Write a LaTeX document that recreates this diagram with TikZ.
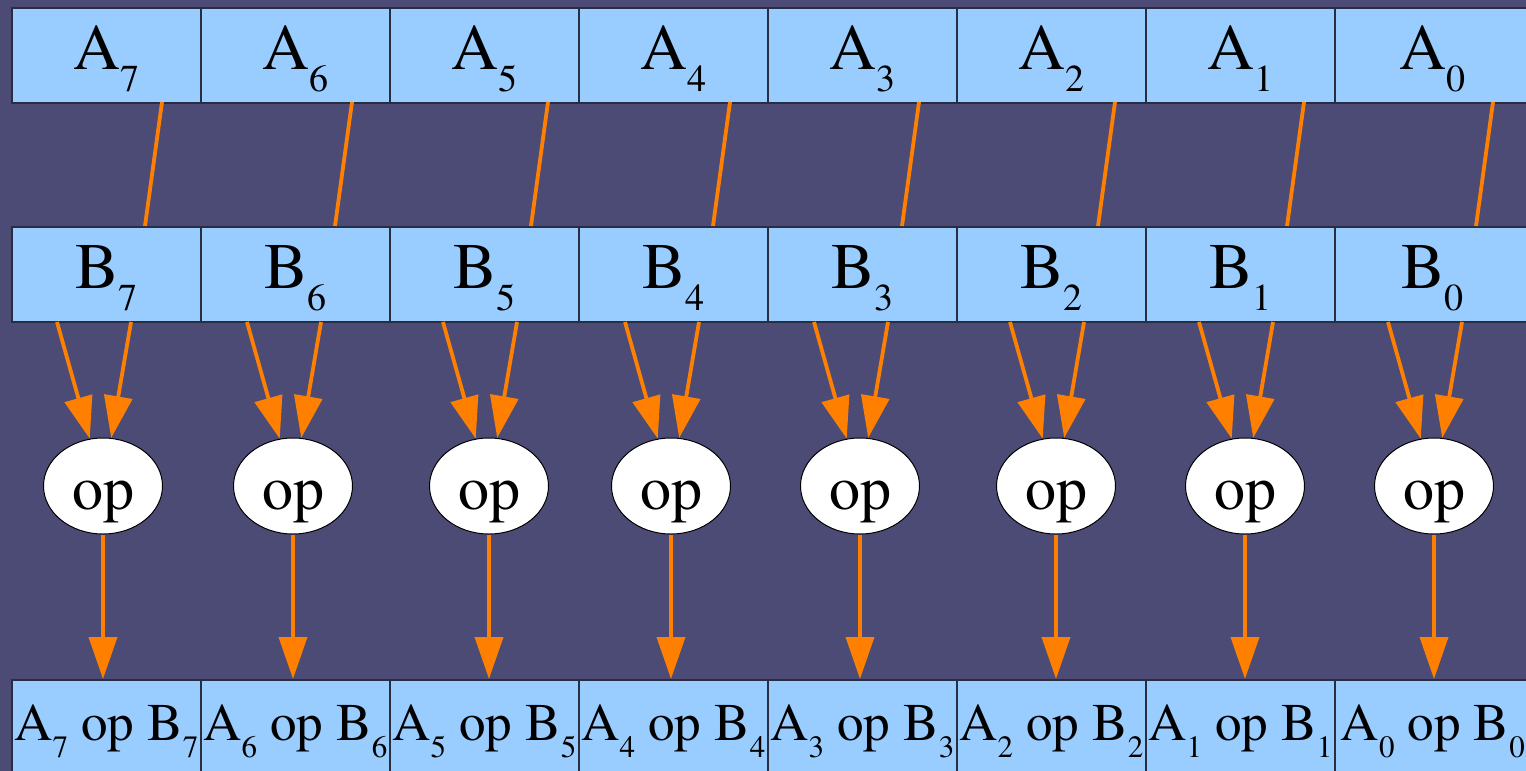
\documentclass[tikz,border=0pt]{standalone}
\usepackage{fontspec}
\setmainfont{texgyretermes}[Extension=.otf, UprightFont=*-regular]
\usetikzlibrary{arrows.meta, shapes.geometric}
\definecolor{bgblue}{RGB}{75,75,118}
\definecolor{cellblue}{RGB}{153,204,255}
\definecolor{cellline}{RGB}{40,45,65}
\definecolor{edgeorange}{RGB}{255,128,0}
\newcommand{\subhi}[1]{\raisebox{-11pt}{\fontsize{19}{19}\selectfont #1}}
\newcommand{\sublo}[1]{\raisebox{-8.5pt}{\fontsize{15.5}{15.5}\selectfont #1}}
\begin{document}
\begin{tikzpicture}[x=0.5pt, y=-0.5pt,
  cell/.style={rectangle, draw=cellline, line width=0.8pt, fill=cellblue, inner sep=0pt,
    minimum height=47.5pt, anchor=north west},
  bigcell/.style={cell, font=\fontsize{32.5}{32.5}\selectfont, text height=21.5pt, text depth=7pt},
  rescell/.style={cell, font=\fontsize{26.5}{26.5}\selectfont, text height=19.5pt, text depth=6pt},
  opnode/.style={ellipse, draw=black, line width=0.5pt, fill=white, inner sep=0pt,
    minimum width=59.5pt, minimum height=48pt, font=\fontsize{31}{31}\selectfont,
    text height=26pt, text depth=3pt},
  wire/.style={draw=edgeorange, line width=1.9pt},
  arr/.style={wire, -{Triangle[length=21pt, width=14pt]}}]
\fill[bgblue] (0,0) rectangle (1526,771);
\useasboundingbox (0,0) rectangle (1526,771);
\foreach \k/\i/\cx/\cw in {0/7/103/94.5pt, 1/6/293/94.5pt, 2/5/489/94.5pt, 3/4/671/94.5pt,
    4/3/860/94.5pt, 5/2/1056/94.5pt, 6/1/1245/94.5pt, 7/0/1434/98pt} {
  \node[bigcell, minimum width=\cw] (A\i) at ({11+189*\k}, 7) {A\subhi{\i}};
  \node[bigcell, minimum width=\cw] (B\i) at ({11+189*\k}, 226) {B\subhi{\i}};
  \node[rescell, minimum width=\cw] (C\i) at ({11+189*\k}, 679) {A\sublo{\i} op B\sublo{\i}};
  \node[opnode] (op\i) at (\cx, 486) {op};
  \coordinate (at\i) at ({\cx+59}, 102);
  \coordinate (bt\i) at ({\cx+42}, 226);
  \coordinate (bl\i) at ({\cx-46}, 322);
  \coordinate (br\i) at ({\cx+28}, 322);
  \draw[wire] (at\i) -- (bt\i);
  \draw[arr] (bl\i) -- (op\i);
  \draw[arr] (br\i) -- (op\i);
  \draw[arr] (op\i.south) -- (op\i.south |- C\i.north);
}
\end{tikzpicture}
\end{document}
